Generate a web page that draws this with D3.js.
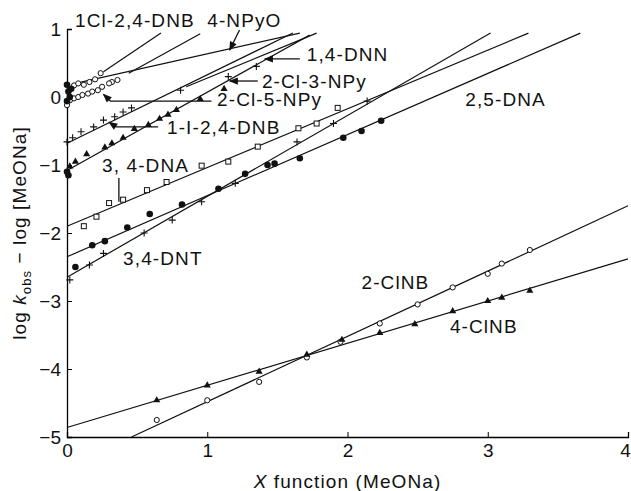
<!DOCTYPE html>
<html>
<head>
<meta charset="utf-8">
<script src="https://cdn.jsdelivr.net/npm/d3@7"></script>
<style>
  body { margin: 0; background: #fff; }
  svg text { font-family: "Liberation Sans", Arial, sans-serif; fill: #111; }
</style>
</head>
<body>
<div id="chart"></div>
<script>
// axis ticks
const xTicks = [0, 1, 2, 3, 4];
const yTicks = [-5, -4, -3, -2, -1, 0, 1];

// fitted lines, [x, y] at both ends
const fit1Cl24DNB = [[0.26, 0.37], [0.67, 0.94]];
const fitSteep2 = [[0.44, 0.35], [0.95, 0.93]];
const fit4NPyO = [[0.1, 0.22], [1.66, 0.94]];
const fitCross = [[0, -0.68], [1.61, 0.94]];
const fit14DNN = [[0.85, 0.15], [1.78, 0.94]];
const fitTri = [[0, -1.08], [1.73, 0.91]];
const fit34DNA = [[0, -1.9], [3.29, 0.94]];
const fit34DNT = [[0, -2.65], [3.02, 0.94]];
const fit25DNA = [[0, -2.35], [3.66, 0.94]];
const fit2ClNB = [[0.46, -5], [4, -1.6]];
const fit4ClNB = [[0, -4.86], [4, -2.38]];

// measured points
const pts25DNA = [[0.06, -2.5], [0.18, -2.18], [0.27, -2.12], [0.43, -1.92], [0.59, -1.72], [0.82, -1.58],
  [1.08, -1.35], [1.27, -1.13], [1.43, -1.0], [1.48, -0.98], [1.66, -0.9], [1.97, -0.6], [2.1, -0.5], [2.24, -0.35]];
const pts34DNT = [[0.02, -2.69], [0.16, -2.47], [0.26, -2.3], [0.55, -2.0], [0.75, -1.81], [0.96, -1.54],
  [1.2, -1.27], [1.64, -0.66], [1.9, -0.39], [2.14, -0.06]];
const pts34DNA = [[0.12, -1.9], [0.21, -1.76], [0.3, -1.56], [0.4, -1.51], [0.57, -1.37], [0.71, -1.25],
  [0.96, -1.01], [1.15, -0.95], [1.36, -0.73], [1.65, -0.46], [1.78, -0.39], [1.93, -0.16]];
const pts2ClNB = [[0.64, -4.75], [1.0, -4.46], [1.37, -4.19], [1.71, -3.83], [1.95, -3.6], [2.23, -3.33],
  [2.5, -3.05], [2.75, -2.8], [3.0, -2.6], [3.1, -2.45], [3.3, -2.25]];
const pts4ClNB = [[0.64, -4.46], [1.0, -4.24], [1.37, -4.04], [1.71, -3.79], [1.96, -3.57], [2.23, -3.47],
  [2.48, -3.34], [2.75, -3.15], [3.0, -3.0], [3.1, -2.95], [3.3, -2.85]];
const ptsCross = [[0, -0.66], [0.04, -0.6], [0.1, -0.51], [0.19, -0.44], [0.26, -0.34], [0.34, -0.29],
  [0.4, -0.22], [0.46, -0.16], [0.81, 0.1], [1.15, 0.3], [1.35, 0.45]];
const ptsTri = [[0.02, -1.02], [0.06, -0.95], [0.14, -0.84], [0.27, -0.74], [0.32, -0.68], [0.4, -0.6],
  [0.48, -0.47], [0.58, -0.41], [0.66, -0.32], [0.72, -0.26], [0.78, -0.19], [0.95, -0.03], [1.12, 0.12]];
const ptsOpenTop = [[0.02, 0.12], [0.05, 0.17], [0.08, 0.2], [0.12, 0.18], [0.16, 0.22], [0.2, 0.26],
  [0.24, 0.35], [0.32, 0.22], [0.36, 0.25]];
const ptsOpenLow = [[0.0, -0.12], [0.02, -0.05], [0.05, -0.02], [0.08, 0.0], [0.11, 0.03], [0.15, 0.05],
  [0.18, 0.08], [0.22, 0.1], [0.25, 0.15], [0.3, 0.2]];
const ptsFilledAxis = [[0.0, 0.18], [0.01, 0.08], [0.02, 0.0], [0.0, -0.06], [0.03, 0.12], [0.0, -1.1], [0.01, -1.15]];

// label text and anchor [x, y] in data units
const labels = ["1Cl-2,4-DNB", "4-NPyO", "1,4-DNN", "2-Cl-3-NPy", "2-Cl-5-NPy", "1-I-2,4-DNB",
  "3, 4-DNA", "3,4-DNT", "2,5-DNA", "2-ClNB", "4-ClNB"];
const labelPos = [[0.057, 1.13], [1.0, 1.13], [1.71, 0.62], [1.39, 0.235], [1.07, -0.04], [0.713, -0.44],
  [0.25, -1.0], [0.4, -2.37], [2.84, -0.04], [2.1, -2.72], [2.73, -3.38]];
// arrows: polyline in data units, head at the end
const arrows = [
  [[1.23, 0.985], [1.16, 0.69]],
  [[1.66, 0.56], [1.41, 0.56]],
  [[1.36, 0.235], [1.16, 0.235]],
  [[1.03, -0.06], [0.31, -0.06], [0.26, 0.04]],
  [[0.65, -0.44], [0.35, -0.44], [0.3, -0.37]]
];
const tickLine = [[0.37, -1.19], [0.37, -1.54]];

const width = 631, height = 491;
const fontSize = 19, spacing = 1.1;
const svg = d3.select('#chart').append('svg')
  .attr('width', width).attr('height', height);

const x = d3.scaleLinear().domain([0, 4]).range([67, 628]);
const y = d3.scaleLinear().domain([-5, 1]).range([437, 29]);

// axes
svg.append('g')
  .attr('transform', `translate(0,${y(-5)})`)
  .call(d3.axisBottom(x).tickValues(xTicks).tickSize(-5).tickPadding(7).tickFormat(d3.format('d')))
  .call(g => g.select('.domain').attr('stroke-width', 1.3))
  .call(g => g.selectAll('text').attr('font-size', fontSize).attr('font-family', 'Liberation Sans')
    .attr('dx', d => d === 4 ? -3 : 0));

svg.append('g')
  .attr('transform', `translate(${x(0)},0)`)
  .call(d3.axisLeft(y).tickValues(yTicks).tickSize(-5).tickPadding(6).tickFormat(d3.format('d')))
  .call(g => g.select('.domain').attr('stroke-width', 1.3))
  .call(g => g.selectAll('text').attr('font-size', fontSize).attr('font-family', 'Liberation Sans'));

// axis titles
svg.append('text')
  .attr('x', x(2)).attr('y', 488).attr('text-anchor', 'middle')
  .attr('font-size', fontSize).attr('letter-spacing', spacing)
  .html('<tspan font-style="italic">X</tspan> function (MeONa)');

svg.append('text')
  .attr('transform', `translate(26,${y(-2)}) rotate(-90)`)
  .attr('text-anchor', 'middle').attr('font-size', fontSize).attr('letter-spacing', spacing)
  .html('log <tspan font-style="italic">k</tspan><tspan font-size="13" dy="5">obs</tspan><tspan dy="-5"> − log [MeONa]</tspan>');

// fitted lines
const line = d3.line().x(d => x(d[0])).y(d => y(d[1]));
const fits = [fit1Cl24DNB, fitSteep2, fit4NPyO, fitCross, fit14DNN, fitTri, fit34DNA, fit34DNT, fit25DNA, fit2ClNB, fit4ClNB];
svg.append('g').selectAll('path').data(fits).join('path')
  .attr('d', line).attr('fill', 'none').attr('stroke', '#111').attr('stroke-width', 1.2);

// markers
function drawPoints(data, type) {
  const g = svg.append('g');
  data.forEach(d => {
    const cx = x(d[0]), cy = y(d[1]);
    if (type === 'filled') {
      g.append('circle').attr('cx', cx).attr('cy', cy).attr('r', 3.3).attr('fill', '#111');
    } else if (type === 'open') {
      g.append('circle').attr('cx', cx).attr('cy', cy).attr('r', 2.6)
        .attr('fill', '#fff').attr('stroke', '#111').attr('stroke-width', 1);
    } else if (type === 'square') {
      g.append('rect').attr('x', cx - 2.5).attr('y', cy - 2.5).attr('width', 5).attr('height', 5)
        .attr('fill', '#fff').attr('stroke', '#111').attr('stroke-width', 1);
    } else if (type === 'plus') {
      g.append('path').attr('d', `M${cx - 3.5},${cy}H${cx + 3.5}M${cx},${cy - 3.5}V${cy + 3.5}`)
        .attr('stroke', '#111').attr('stroke-width', 1.1);
    } else if (type === 'tri') {
      g.append('path').attr('d', d3.symbol(d3.symbolTriangle, 22)())
        .attr('transform', `translate(${cx},${cy})`).attr('fill', '#111');
    }
  });
}
drawPoints(pts25DNA, 'filled');
drawPoints(pts34DNT, 'plus');
drawPoints(pts34DNA, 'square');
drawPoints(pts2ClNB, 'open');
drawPoints(pts4ClNB, 'tri');
drawPoints(ptsCross, 'plus');
drawPoints(ptsTri, 'tri');
drawPoints(ptsOpenTop, 'open');
drawPoints(ptsOpenLow, 'open');
drawPoints(ptsFilledAxis, 'filled');

// labels
svg.append('g').selectAll('text').data(labels).join('text')
  .attr('x', (d, i) => x(labelPos[i][0]))
  .attr('y', (d, i) => y(labelPos[i][1]))
  .attr('dy', '0.35em')
  .attr('font-size', fontSize).attr('letter-spacing', spacing)
  .text(d => d);

// arrows
svg.append('defs').append('marker')
  .attr('id', 'head').attr('viewBox', '0 0 10 10').attr('refX', 9).attr('refY', 5)
  .attr('markerWidth', 9).attr('markerHeight', 7).attr('orient', 'auto')
  .append('path').attr('d', 'M0,1L10,5L0,9Z').attr('fill', '#111');
svg.append('g').selectAll('path').data(arrows).join('path')
  .attr('d', line).attr('fill', 'none').attr('stroke', '#111').attr('stroke-width', 1.3)
  .attr('marker-end', 'url(#head)');
svg.append('path').attr('d', line(tickLine)).attr('stroke', '#111').attr('stroke-width', 1.3);
</script>
</body>
</html>
